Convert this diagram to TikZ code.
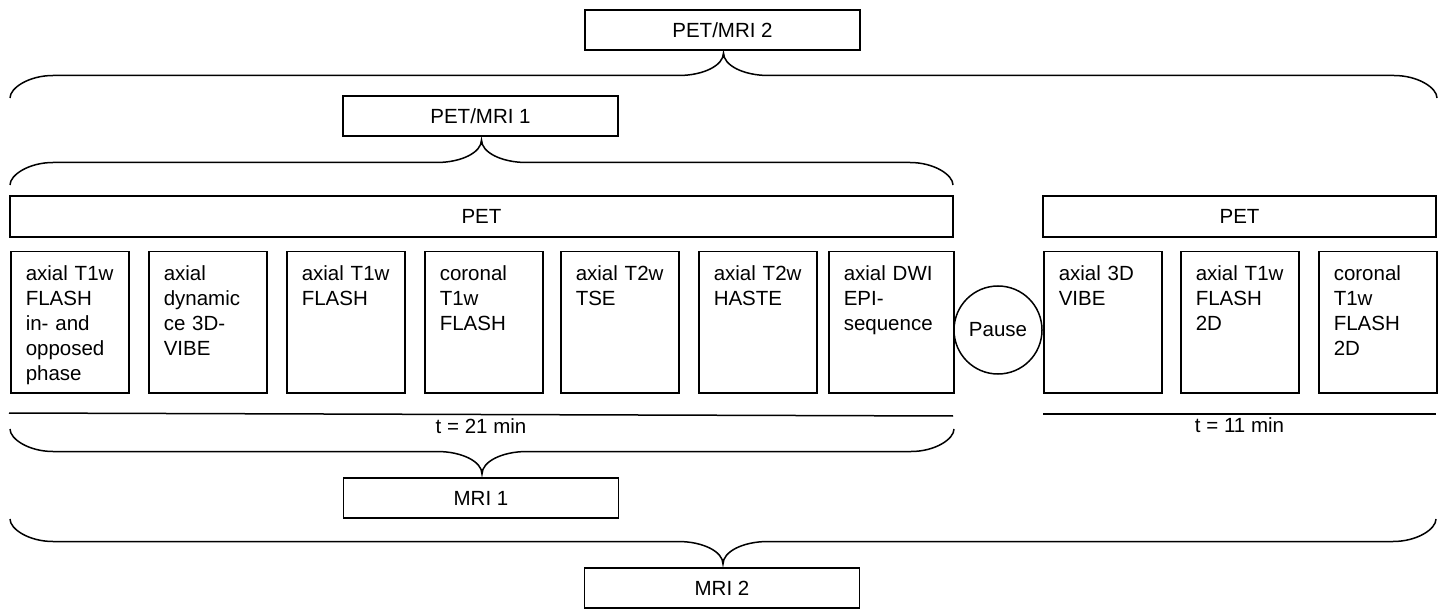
\documentclass[tikz,border=0pt]{standalone}
\usepackage{fontspec}
\setmainfont{Liberation Sans}
\newcommand{\spanbrace}[4]{% left x, right x, end y, amplitude (neg = up)
  \pgfmathsetmacro{\brcmid}{(#1+#2)/2}
  \draw (#1,#3) .. controls (#1,{#3+0.45*(#4)}) and ({#1+19},{#3+(#4)}) .. ({#1+43},{#3+(#4)})
    -- ({\brcmid-45},{#3+(#4)}) .. controls ({\brcmid-20},{#3+(#4)}) and (\brcmid,{#3+1.45*(#4)}) .. (\brcmid,{#3+2*(#4)})
    .. controls (\brcmid,{#3+1.45*(#4)}) and ({\brcmid+20},{#3+(#4)}) .. ({\brcmid+45},{#3+(#4)})
    -- ({#2-43},{#3+(#4)}) .. controls ({#2-19},{#3+(#4)}) and (#2,{#3+0.45*(#4)}) .. (#2,#3);}
\begin{document}
\begin{tikzpicture}[x=1pt,y=-1pt,line width=1.5pt,
  font=\fontsize{20.5}{25}\selectfont,
  hdr/.style={draw,inner sep=0pt,minimum width=275,minimum height=40},
  bar/.style={draw,inner sep=0pt,minimum height=41},
  seq/.style={draw,anchor=north west,align=left,inner xsep=15pt,inner ysep=0pt,
    text width=88pt,text height=29pt,text depth=112pt},
  wideseq/.style={seq,text width=95pt}]
  \useasboundingbox (0,0) rectangle (1440,609);
  % titles
  \node[hdr] (pm2) at (722.5,30) {PET/MRI 2};
  \node[hdr] (pm1) at (480.5,116) {PET/MRI 1};
  \node[hdr] (mri1) at (481,498) {MRI 1};
  \node[hdr] (mri2) at (722,588) {MRI 2};
  % PET bars
  \node[bar,minimum width=943] (pet1) at (481.5,216.5) {PET};
  \node[bar,minimum width=393] (pet2) at (1239.5,216.5) {PET};
  % sequences, first session
  \node[seq] (s1) at (10,251) {axial T1w\\FLASH\\in- and\\opposed\\phase};
  \node[seq] (s2) at (148,251) {axial\\dynamic\\ce 3D-\\VIBE};
  \node[seq] (s3) at (286,251) {axial T1w\\FLASH};
  \node[seq] (s4) at (424,251) {coronal\\T1w\\FLASH};
  \node[seq] (s5) at (560,251) {axial T2w\\TSE};
  \node[seq] (s6) at (698,251) {axial T2w\\HASTE};
  \node[wideseq] (s7) at (828,251) {axial DWI\\EPI-\\sequence};
  \node[draw,circle,minimum size=88,inner sep=0pt] (pause) at (998,330) {Pause};
  % sequences, second session
  \node[seq] (r1) at (1043,251) {axial 3D\\VIBE};
  \node[seq] (r2) at (1180,251) {axial T1w\\FLASH\\2D};
  \node[seq] (r3) at (1318,251) {coronal\\T1w\\FLASH\\2D};
  % time lines
  \coordinate (ta) at (9,413); \coordinate (tb) at (953,416);
  \coordinate (tc) at (1043,414); \coordinate (td) at (1436,414);
  \draw (ta) -- (tb) node[midway,below] (t1) {t = 21 min};
  \draw (tc) -- (td) node[midway,below] (t2) {t = 11 min};
  % braces
  \spanbrace{10}{1437}{98}{-22.5}
  \spanbrace{10}{953}{185}{-22.5}
  \spanbrace{10}{954}{429}{22.5}
  \spanbrace{10}{1436}{519}{22.5}
\end{tikzpicture}
\end{document}
